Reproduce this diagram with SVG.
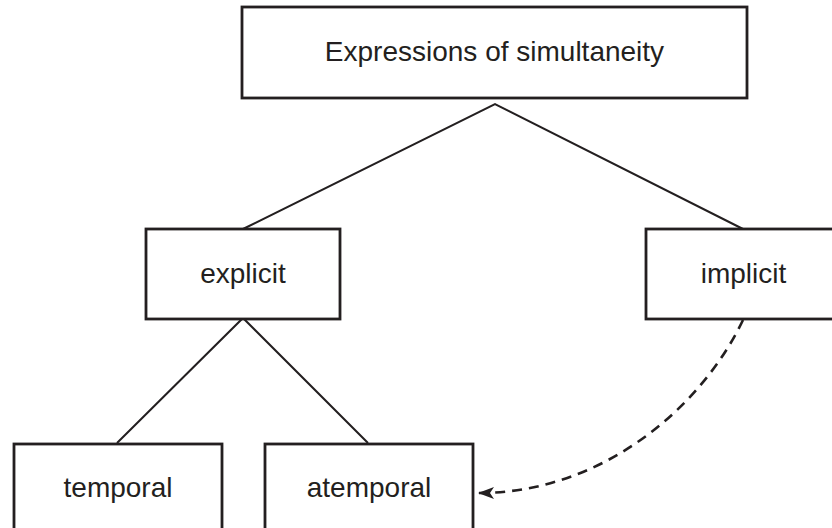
<svg xmlns="http://www.w3.org/2000/svg" width="832" height="528" viewBox="0 0 832 528">
<style>
.box{fill:#fff;stroke:#231f20;stroke-width:2.8}
.lbl{font-family:"Liberation Sans",Arial,sans-serif;font-size:28px;fill:#231f20;text-anchor:middle}
.ln{fill:none;stroke:#231f20;stroke-width:2}
.dash{fill:none;stroke:#231f20;stroke-width:2.6;stroke-dasharray:10 7}
</style>
<defs>
<marker id="arr" viewBox="0 0 16 12" refX="15" refY="6" markerWidth="16" markerHeight="12" markerUnits="userSpaceOnUse" orient="auto">
<path d="M0,0 L16,6 L0,12 L4,6 z" fill="#231f20"/>
</marker>
</defs>
<rect width="832" height="528" fill="#fff"/>
<g id="connectors">
<path class="ln" d="M243,229 L495,104 L743,229"/>
<path class="ln" d="M117,443 L243,318 L368,443"/>
<path class="dash" d="M743,320 C700,410 600,493 479,493" marker-end="url(#arr)"/>
</g>
<g id="n-top">
<rect class="box" x="242" y="7" width="505" height="91"/>
<text class="lbl" x="494.5" y="61">Expressions of simultaneity</text>
</g>
<g id="n-explicit">
<rect class="box" x="146" y="229" width="194" height="90"/>
<text class="lbl" x="243" y="283">explicit</text>
</g>
<g id="n-implicit">
<rect class="box" x="646" y="229" width="196" height="90"/>
<text class="lbl" x="743.5" y="283">implicit</text>
</g>
<g id="n-temporal">
<rect class="box" x="14" y="444" width="208" height="100"/>
<text class="lbl" x="118" y="497">temporal</text>
</g>
<g id="n-atemporal">
<rect class="box" x="265" y="444" width="208" height="100"/>
<text class="lbl" x="369" y="497">atemporal</text>
</g>
</svg>
